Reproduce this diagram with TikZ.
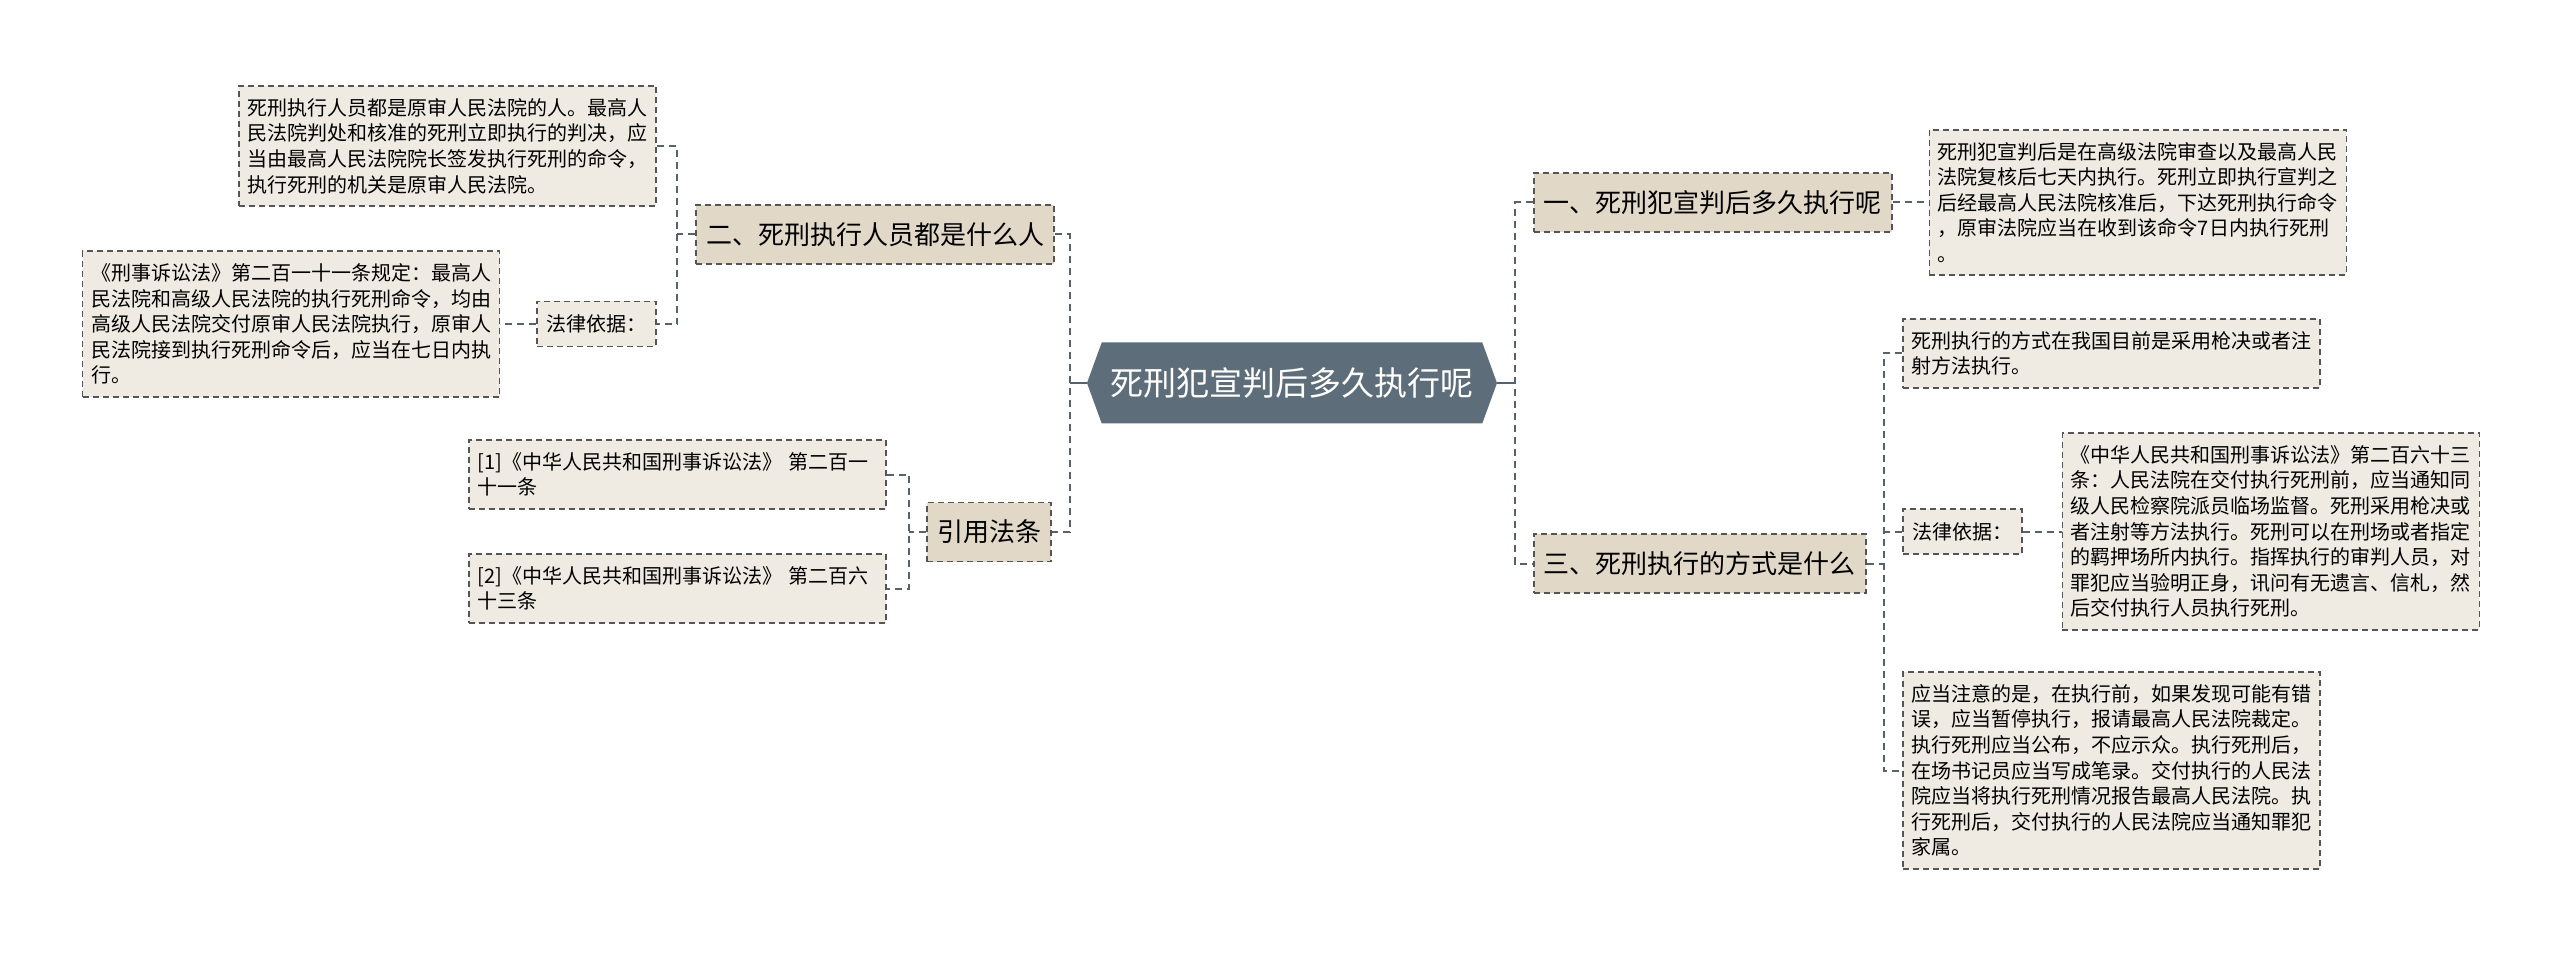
\documentclass[tikz,border=0pt]{standalone}
\usepackage{fontspec}
\newfontfamily\cjk{Noto Sans CJK SC}
\usepackage{tikz}
\usetikzlibrary{shapes.symbols, positioning}
\usepackage{xcolor}
\definecolor{rootfill}{HTML}{5D6D79}
\definecolor{topicfill}{HTML}{E1D8C8}
\definecolor{leaffill}{HTML}{EFEBE3}
\definecolor{edgecol}{HTML}{555555}
\definecolor{linkcol}{HTML}{56626C}

\begin{document}
\begin{tikzpicture}[
    x=1pt, y=-1pt,
    rootbox/.style={signal, signal to=west and east, signal pointer angle=140,
                    fill=rootfill, text=white, minimum width=410pt, minimum height=81pt,
                    inner sep=0pt, font=\cjk\fontsize{33}{40}\selectfont},
    topic/.style={rectangle, draw=edgecol, fill=topicfill, line width=1.6pt,
                  dash pattern=on 6pt off 4pt, minimum height=59pt, inner xsep=10pt,
                  font=\cjk\fontsize{26}{32}\selectfont},
    tag/.style={rectangle, draw=edgecol, fill=leaffill, line width=1.6pt,
                dash pattern=on 6pt off 4pt, minimum height=45pt, inner xsep=9.5pt,
                font=\cjk\fontsize{20}{25.6}\selectfont},
    leaf/.style={rectangle, draw=edgecol, fill=leaffill, line width=1.6pt,
                 dash pattern=on 6pt off 4pt, text width=400pt, align=left,
                 inner xsep=8.5pt, inner ysep=12.5pt,
                 font=\cjk\fontsize{20}{25.6}\selectfont},
    link/.style={draw=linkcol, line width=2pt, dash pattern=on 7pt off 5pt},
    stub/.style={draw=linkcol, line width=2pt}
]
\useasboundingbox[fill=white] (0,0) rectangle (2560,957);

\node[rootbox] (root) at (1292,383) {死刑犯宣判后多久执行呢};

\node[topic, anchor=east] (who) at (1055,234.5) {二、死刑执行人员都是什么人};
\node[topic, anchor=east] (cite) at (1052,532) {引用法条};
\node[topic, anchor=west] (when) at (1533,202.5) {一、死刑犯宣判后多久执行呢};
\node[topic, anchor=west] (how) at (1533,563.5) {三、死刑执行的方式是什么};

\node[leaf, anchor=east] (whoText) at (657,146) {死刑执行人员都是原审人民法院的人。最高人\\民法院判处和核准的死刑立即执行的判决，应\\当由最高人民法院院长签发执行死刑的命令，\\执行死刑的机关是原审人民法院。};
\node[tag, anchor=east] (whoLaw) at (657,324) {法律依据：};
\node[leaf, left=36pt of whoLaw] (whoLawText) {《刑事诉讼法》第二百一十一条规定：最高人\\民法院和高级人民法院的执行死刑命令，均由\\高级人民法院交付原审人民法院执行，原审人\\民法院接到执行死刑命令后，应当在七日内执\\行。};

\node[leaf, anchor=east] (refOne) at (887,474.5) {[1]《中华人民共和国刑事诉讼法》 第二百一\\十一条};
\node[leaf, anchor=east] (refTwo) at (887,588.5) {[2]《中华人民共和国刑事诉讼法》 第二百六\\十三条};

\node[leaf, right=36pt of when] (whenText) {死刑犯宣判后是在高级法院审查以及最高人民\\法院复核后七天内执行。死刑立即执行宣判之\\后经最高人民法院核准后，下达死刑执行命令\\，原审法院应当在收到该命令7日内执行死刑\\。};

\node[leaf, anchor=west] (howWay) at (1902,353.5) {死刑执行的方式在我国目前是采用枪决或者注\\射方法执行。};
\node[tag, anchor=west] (howLaw) at (1902,531.5) {法律依据：};
\node[leaf, right=39pt of howLaw] (howLawText) {《中华人民共和国刑事诉讼法》第二百六十三\\条：人民法院在交付执行死刑前，应当通知同\\级人民检察院派员临场监督。死刑采用枪决或\\者注射等方法执行。死刑可以在刑场或者指定\\的羁押场所内执行。指挥执行的审判人员，对\\罪犯应当验明正身，讯问有无遗言、信札，然\\后交付执行人员执行死刑。};
\node[leaf, anchor=west] (howNote) at (1902,770.5) {应当注意的是，在执行前，如果发现可能有错\\误，应当暂停执行，报请最高人民法院裁定。\\执行死刑应当公布，不应示众。执行死刑后，\\在场书记员应当写成笔录。交付执行的人民法\\院应当将执行死刑情况报告最高人民法院。执\\行死刑后，交付执行的人民法院应当通知罪犯\\家属。};

\coordinate (leftHub) at ([xshift=-17pt]root.west);
\coordinate (rightHub) at ([xshift=18pt]root.east);
\draw[stub] (root.west) -- (leftHub);
\draw[stub] (root.east) -- (rightHub);
\draw[link] (who.east) -| (leftHub) |- (cite.east);
\draw[link] (when.west) -| (rightHub) |- (how.west);

\draw[link] (whoText.east) -| ([xshift=-18pt]who.west) |- (whoLaw.east);
\draw[link] (who.west) -- ++(-18,0);
\draw[link] (whoLaw) -- (whoLawText);

\draw[link] (refOne.east) -| ([xshift=-17pt]cite.west) |- (refTwo.east);
\draw[link] (cite.west) -- ++(-17,0);

\draw[link] (when) -- (whenText);

\draw[link] (howWay.west) -| ([xshift=17pt]how.east) |- (howNote.west);
\draw[link] (how.east) -- ++(17,0);
\draw[link] (howLaw.west) -- ++(-19,0);
\draw[link] (howLaw) -- (howLawText);
\end{tikzpicture}
\end{document}
